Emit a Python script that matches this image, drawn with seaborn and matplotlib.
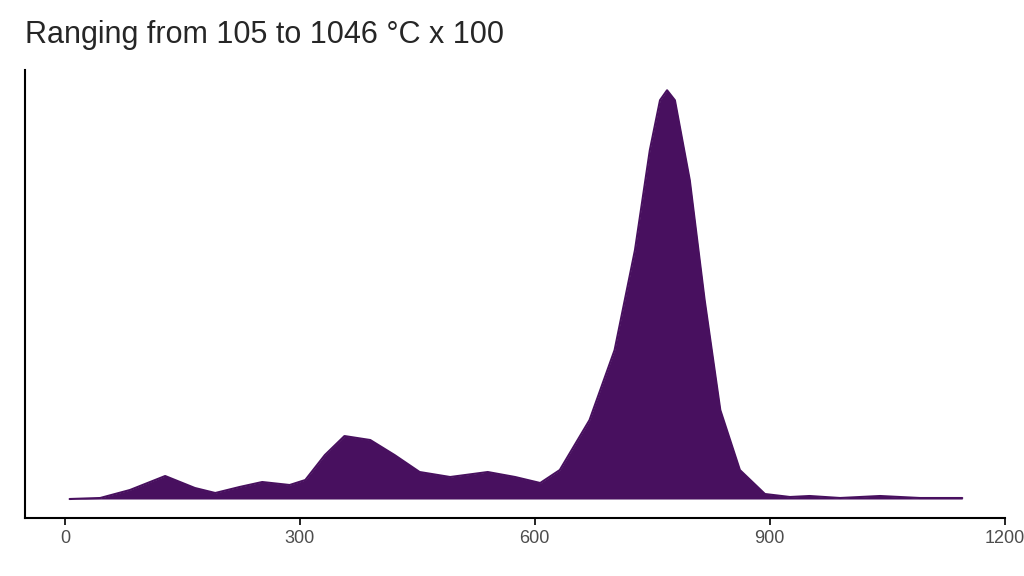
import matplotlib
matplotlib.use("Agg")
import matplotlib.pyplot as plt
import seaborn as sns
import pandas as pd

# temperature (°C x 100 scale on axis) and relative density
temperature = [6, 45, 83, 128, 166, 192, 223, 252, 287, 307, 332, 357, 390, 421,
               453, 492, 540, 575, 607, 632, 670, 702, 728, 747, 760, 769, 779,
               798, 817, 837, 862, 894, 926, 951, 990, 1041, 1092, 1146]
density = [0, 1, 9, 23, 11, 6, 12, 17, 14, 19, 44, 63, 59, 44, 27, 22, 27, 22,
           16, 29, 79, 149, 249, 349, 399, 409, 399, 319, 199, 89, 29, 5, 2, 3,
           1, 3, 1, 1]
xticks = [0, 300, 600, 900, 1200]

df = pd.DataFrame({"temperature": temperature, "density": density})
fill = "#48105f"

sns.set_style("white")
plt.rcParams["font.family"] = ["Liberation Sans", "DejaVu Sans"]

fig = plt.figure(figsize=(10.24, 5.76), dpi=100)
ax = fig.add_axes([0.0244, 0.1007, 0.9566, 0.7773])

ax.fill_between(df["temperature"], df["density"], color=fill, linewidth=0)
sns.lineplot(data=df, x="temperature", y="density", color=fill, linewidth=1.5, ax=ax)

ax.set_xlim(-51, 1200)
ax.set_ylim(-19, 429)
ax.set_xticks(xticks)
ax.set_xticklabels([str(t) for t in xticks], fontsize=13, color="#4d4d4d")
ax.set_yticks([])
ax.set_xlabel("")
ax.set_ylabel("")
for s in ["top", "right"]:
    ax.spines[s].set_visible(False)
for s in ["left", "bottom"]:
    ax.spines[s].set_color("black")
    ax.spines[s].set_linewidth(1.5)
ax.tick_params(axis="x", length=5, width=1.2, color="black", bottom=True)

fig.text(0.024, 0.925, "Ranging from 105 to 1046 °C x 100", fontsize=22, ha="left", va="baseline")

fig.savefig("out.png", dpi=100)
